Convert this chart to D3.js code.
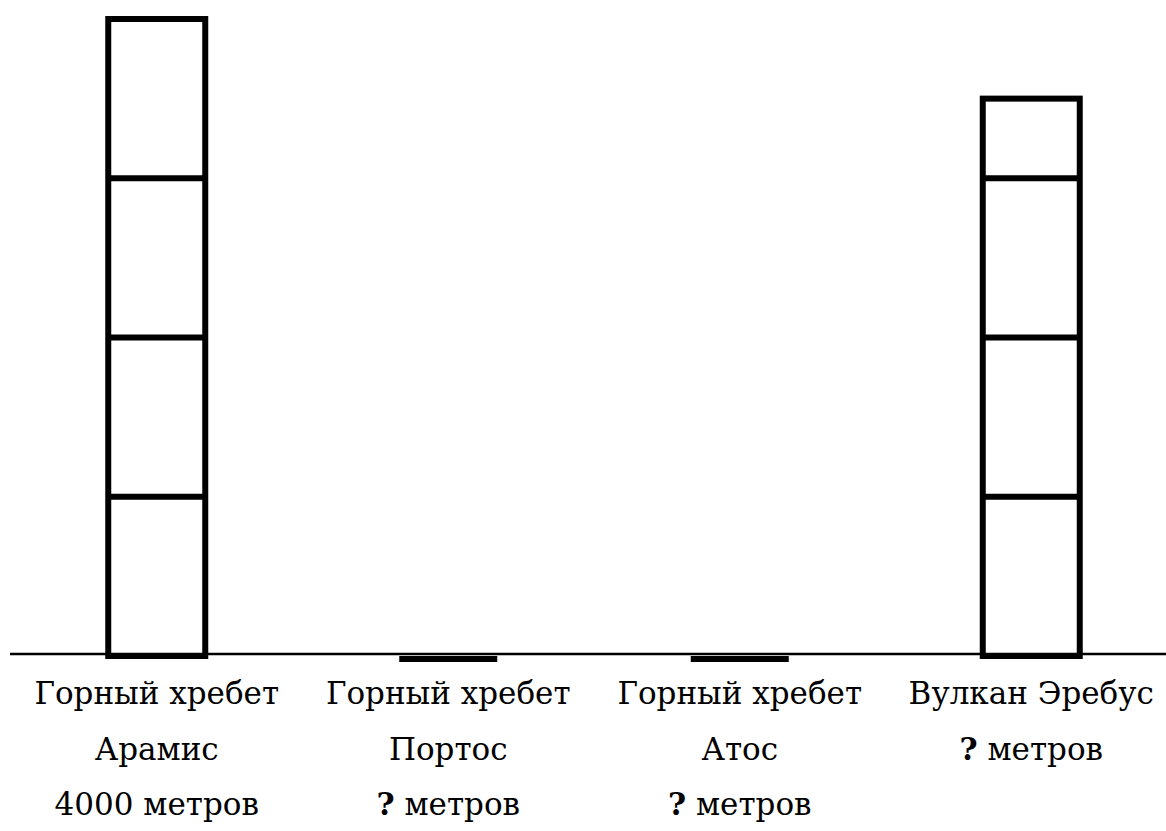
<!DOCTYPE html>
<html>
<head>
<meta charset="utf-8">
<script src="https://cdn.jsdelivr.net/npm/d3@7"></script>
<style>
  body { margin: 0; background: #fff; }
  svg { display: block; }
  text { font-family: "DejaVu Serif", serif; }
</style>
</head>
<body>
<div id="chart"></div>
<script>
// Données
const categories = ["Арамис", "Портос", "Атос", "Эребус"];
const values = [4000, 0, 0, 3500];
const blockTicks = [1000, 2000, 3000];
const line1 = ["Горный хребет", "Горный хребет", "Горный хребет", "Вулкан Эребус"];
const line2 = [
  [{ t: "Арамис", b: false }],
  [{ t: "Портос", b: false }],
  [{ t: "Атос", b: false }],
  [{ t: "?", b: true }, { t: " метров", b: false }]
];
const line3 = [
  [{ t: "4000 метров", b: false }],
  [{ t: "?", b: true }, { t: " метров", b: false }],
  [{ t: "?", b: true }, { t: " метров", b: false }],
  []
];

const width = 1166;
const height = 831;
const barW = 97;
const sw = 6;

const svg = d3.select("#chart")
  .append("svg")
  .attr("width", width)
  .attr("height", height);

// Échelles
const x = d3.scalePoint()
  .domain(categories)
  .range([11, 1177])
  .padding(0.5);

const y = d3.scaleLinear()
  .domain([0, 4000])
  .range([656, 19]);

const data = categories.map((c, i) => ({ cat: c, value: values[i] }));

// Barres non nulles : contour épais
svg.selectAll("rect.bar")
  .data(data.filter(d => d.value > 0))
  .join("rect")
  .attr("class", "bar")
  .attr("x", d => x(d.cat) - barW / 2)
  .attr("y", d => y(d.value))
  .attr("width", barW)
  .attr("height", d => y(0) - y(d.value))
  .attr("fill", "none")
  .attr("stroke", "#000")
  .attr("stroke-width", sw);

// Séparations de blocs (1000 m)
data.filter(d => d.value > 0).forEach(d => {
  svg.selectAll(null)
    .data(blockTicks.filter(t => t < d.value))
    .join("line")
    .attr("x1", x(d.cat) - barW / 2)
    .attr("x2", x(d.cat) + barW / 2)
    .attr("y1", t => y(t))
    .attr("y2", t => y(t))
    .attr("stroke", "#000")
    .attr("stroke-width", sw);
});

// Barres nulles : trait épais
svg.selectAll("rect.zero")
  .data(data.filter(d => d.value === 0))
  .join("rect")
  .attr("class", "zero")
  .attr("x", d => x(d.cat) - 49)
  .attr("y", y(0))
  .attr("width", 98)
  .attr("height", sw)
  .attr("fill", "#000");

// Ligne de base
svg.append("line")
  .attr("x1", 10)
  .attr("x2", width)
  .attr("y1", 654)
  .attr("y2", 654)
  .attr("stroke", "#000")
  .attr("stroke-width", 2.6);

// Étiquettes
const fontSize = 31;
const baselines = [704, 760, 815];

function addLine(parts, i, yPos) {
  const txt = svg.append("text")
    .attr("x", x(categories[i]))
    .attr("y", yPos)
    .attr("text-anchor", "middle")
    .attr("font-size", fontSize + "px")
    .attr("fill", "#000");
  parts.forEach(p => {
    txt.append("tspan")
      .attr("font-weight", p.b ? "bold" : "normal")
      .text(p.t);
  });
}

categories.forEach((c, i) => {
  addLine([{ t: line1[i], b: false }], i, baselines[0]);
  addLine(line2[i], i, baselines[1]);
  if (line3[i].length) addLine(line3[i], i, baselines[2]);
});
</script>
</body>
</html>
